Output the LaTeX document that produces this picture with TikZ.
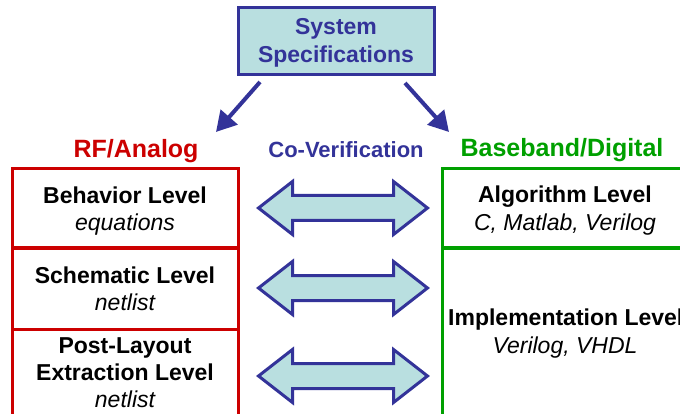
\documentclass[tikz,border=0pt]{standalone}
\usepackage{fontspec}
\setmainfont{Liberation Sans}
\usetikzlibrary{arrows.meta}
\definecolor{specblue}{HTML}{333399}
\definecolor{specfill}{HTML}{B9DFE0}
\definecolor{rfred}{HTML}{CC0000}
\definecolor{bbgreen}{HTML}{00A000}
\tikzset{
  lvl/.style={font=\fontsize{23}{28}\selectfont\bfseries, text=black, inner sep=0pt, anchor=base},
  sub/.style={font=\fontsize{23}{28}\selectfont\itshape, text=black, inner sep=0pt, anchor=base},
  title/.style={font=\fontsize{25}{30}\selectfont\bfseries, inner sep=0pt, anchor=base},
  spectext/.style={font=\fontsize{23}{27}\selectfont\bfseries, text=specblue, inner sep=0pt, anchor=base},
  specbox/.style={draw=specblue, fill=specfill, line width=3pt},
  flowarrow/.style={draw=specblue, line width=4pt, -{Triangle[length=20pt,width=22pt]}},
  pics/dblarrow/.style={code={
    \draw[specblue, fill=specfill, line width=3pt, line join=miter]
      (-84.5,0) -- (-50.5,26.5) -- (-50.5,12.5) -- (50.5,12.5) -- (50.5,26.5) -- (84.5,0)
      -- (50.5,-26.5) -- (50.5,-12.5) -- (-50.5,-12.5) -- (-50.5,-26.5) -- cycle;
  }}
}
\begin{document}
\begin{tikzpicture}[x=1pt,y=-1pt]
\useasboundingbox (0,0) rectangle (680,414);
\clip (0,0) rectangle (680,414);
\fill[white] (0,0) rectangle (680,414);

% system specifications
\draw[specbox] (238,8) rectangle (434,75);
\node[spectext] (spec1) at (336,35) {System};
\node[spectext] (spec2) at (336,63) {Specifications};

\coordinate (la) at (260,82);
\coordinate (lb) at (216,132);
\coordinate (ra) at (405,83);
\coordinate (rb) at (449,132);
\draw[flowarrow] (la) -- (lb);
\draw[flowarrow] (ra) -- (rb);

% titles
\node[title, text=rfred] (rf) at (136,158) {RF/Analog};
\node[title, text=bbgreen] (bb) at (562,157) {Baseband/Digital};
\node[font=\fontsize{22}{26}\selectfont\bfseries, text=specblue, inner sep=0pt, anchor=base] (cov) at (346,158) {Co-Verification};

% red column
\draw[rfred, line width=3pt] (12,430) -- (12,169) -- (238,169) -- (238,430);
\draw[rfred, line width=3pt] (12,248) -- (238,248);
\draw[rfred, line width=3pt] (12,329) -- (238,329);

% green column
\draw[bbgreen, line width=3pt] (442,430) -- (442,169) -- (700,169);
\draw[bbgreen, line width=3pt] (442,248) -- (700,248);

% left texts
\node[lvl] (beh) at (125,204) {Behavior Level};
\node[sub] (behs) at (125,230) {equations};
\node[lvl] (sch) at (125,283) {Schematic Level};
\node[sub] (schs) at (125,310) {netlist};
\node[lvl] (post) at (125,353) {Post-Layout};
\node[lvl] (ext) at (125,380) {Extraction Level};
\node[sub] (exts) at (125,407) {netlist};

% right texts
\node[lvl] (alg) at (565,203) {Algorithm Level};
\node[sub] (algs) at (565,230) {C, Matlab, Verilog};
\node[lvl, anchor=base west] (imp) at (448,325) {Implementation Level};
\node[sub] (imps) at (565,353) {Verilog, VHDL};

% co-verification arrows
\pic at (343,208) {dblarrow};
\pic at (343,288) {dblarrow};
\pic at (343,376) {dblarrow};
\end{tikzpicture}
\end{document}
